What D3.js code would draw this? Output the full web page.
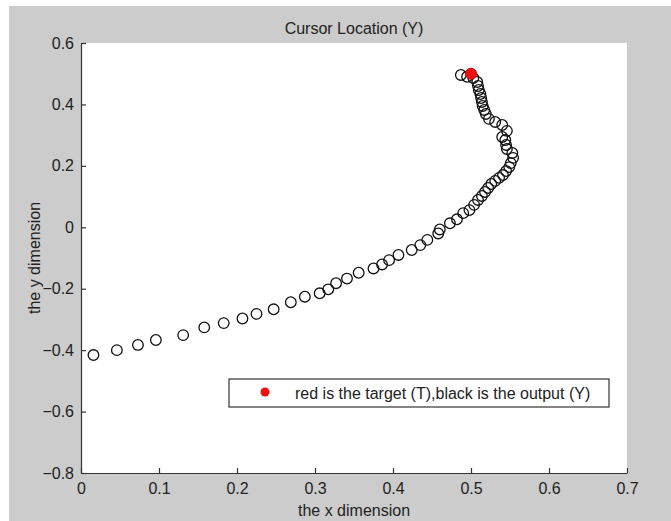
<!DOCTYPE html>
<html>
<head>
<meta charset="utf-8">
<script src="https://cdn.jsdelivr.net/npm/d3@7"></script>
<style>
  body { margin: 0; background: #fff; }
  text { font-family: "Liberation Sans", Arial, sans-serif; fill: #222; }
</style>
</head>
<body>
<div id="chart"></div>
<script>
// output trajectory (Y)
const outX = [0.016, 0.046, 0.073, 0.096, 0.131, 0.158, 0.183, 0.207, 0.225, 0.247,
              0.269, 0.287, 0.306, 0.317, 0.327, 0.341, 0.356, 0.375, 0.386, 0.395,
              0.407, 0.424, 0.435, 0.444, 0.458, 0.460, 0.473, 0.482, 0.490, 0.498,
              0.504, 0.509, 0.514, 0.518, 0.522, 0.526, 0.531, 0.536, 0.541, 0.545,
              0.549, 0.551, 0.554, 0.553, 0.546, 0.545, 0.544, 0.540, 0.546, 0.540,
              0.531, 0.523, 0.519, 0.517, 0.515, 0.514, 0.513, 0.512, 0.510, 0.509,
              0.508, 0.503, 0.495, 0.487];
const outY = [-0.416, -0.400, -0.383, -0.367, -0.351, -0.326, -0.312, -0.297, -0.282, -0.267,
              -0.244, -0.226, -0.215, -0.202, -0.182, -0.167, -0.148, -0.134, -0.121, -0.107,
              -0.090, -0.074, -0.058, -0.041, -0.020, -0.007, 0.013, 0.026, 0.046, 0.056,
              0.073, 0.089, 0.102, 0.115, 0.128, 0.141, 0.151, 0.161, 0.170, 0.183,
              0.196, 0.209, 0.226, 0.242, 0.255, 0.268, 0.284, 0.294, 0.314, 0.333,
              0.343, 0.353, 0.369, 0.382, 0.395, 0.408, 0.421, 0.434, 0.447, 0.460,
              0.473, 0.486, 0.490, 0.496];
// target (T)
const targetX = [0.5];
const targetY = [0.5];

const xTicks = [0, 0.1, 0.2, 0.3, 0.4, 0.5, 0.6, 0.7];
const yTicks = [-0.8, -0.6, -0.4, -0.2, 0, 0.2, 0.4, 0.6];
const legendText = "red is the target (T),black is the output (Y)";

const width = 671, height = 521;
const margin = {top: 43, right: 44, bottom: 48, left: 81};
const plotW = width - margin.left - margin.right;
const plotH = height - margin.top - margin.bottom;
const fs = 16;

const svg = d3.select("#chart").append("svg")
    .attr("width", width)
    .attr("height", height);

// figure background (grey, with the thin white strip top/left)
svg.append("rect")
    .attr("x", 9).attr("y", 6)
    .attr("width", width - 9).attr("height", height - 6)
    .attr("fill", "#cccccc");

const x = d3.scaleLinear().domain([0, 0.7]).range([0, plotW]);
const y = d3.scaleLinear().domain([-0.8, 0.6]).range([plotH, 0]);

const g = svg.append("g")
    .attr("transform", "translate(" + margin.left + "," + margin.top + ")");

g.append("rect")
    .attr("width", plotW)
    .attr("height", plotH)
    .attr("fill", "#ffffff");

// axes, ticks pointing inward like matlab
let xAxis = d3.axisBottom(x).tickValues(xTicks)
    .tickSizeInner(-5).tickSizeOuter(0).tickPadding(7)
    .tickFormat(d => d3.format("")(+d.toFixed(1)));
let yAxis = d3.axisLeft(y).tickValues(yTicks)
    .tickSizeInner(-5).tickSizeOuter(0).tickPadding(7)
    .tickFormat(d => d3.format("")(+d.toFixed(1)));

let gx = g.append("g")
    .attr("transform", "translate(0," + plotH + ")")
    .call(xAxis);
let gy = g.append("g").call(yAxis);

[gx, gy].forEach(a => {
    a.select(".domain").attr("stroke", "#333").attr("stroke-width", 1.2);
    a.selectAll(".tick line").attr("stroke", "#333").attr("stroke-width", 1.2);
    a.selectAll(".tick text")
        .attr("font-family", "'Liberation Sans', Arial, sans-serif")
        .attr("font-size", fs)
        .attr("fill", "#222");
});
gx.selectAll(".tick text").attr("dy", "0.85em");

// output circles
const pts = outX.map((v, i) => ({x: v, y: outY[i]}));
g.selectAll("circle.out")
    .data(pts)
    .enter()
    .append("circle")
    .attr("class", "out")
    .attr("cx", d => x(d.x))
    .attr("cy", d => y(d.y))
    .attr("r", 5.3)
    .attr("fill", "none")
    .attr("stroke", "#111")
    .attr("stroke-width", 1.3);

// target
g.selectAll("circle.target")
    .data(targetX.map((v, i) => ({x: v, y: targetY[i]})))
    .enter()
    .append("circle")
    .attr("class", "target")
    .attr("cx", d => x(d.x))
    .attr("cy", d => y(d.y))
    .attr("r", 5.5)
    .attr("fill", "#ee1111")
    .attr("stroke", "#dd0000")
    .attr("stroke-width", 1);

// title and axis labels
svg.append("text")
    .attr("x", margin.left + plotW / 2)
    .attr("y", 34)
    .attr("text-anchor", "middle")
    .attr("font-size", fs)
    .text("Cursor Location (Y)");

svg.append("text")
    .attr("x", margin.left + plotW / 2)
    .attr("y", 516)
    .attr("text-anchor", "middle")
    .attr("font-size", fs)
    .text("the x dimension");

svg.append("text")
    .attr("transform", "translate(40," + (margin.top + y(-0.1)) + ") rotate(-90)")
    .attr("text-anchor", "middle")
    .attr("font-size", fs)
    .text("the y dimension");

// legend
const leg = svg.append("g").attr("transform", "translate(229,379)");
leg.append("rect")
    .attr("width", 380).attr("height", 28)
    .attr("fill", "#ffffff")
    .attr("stroke", "#333")
    .attr("stroke-width", 1.2);
leg.append("circle")
    .attr("cx", 36).attr("cy", 13)
    .attr("r", 4.5)
    .attr("fill", "#ee1111");
leg.append("text")
    .attr("x", 66).attr("y", 19.5)
    .attr("font-size", fs)
    .text(legendText);
</script>
</body>
</html>
